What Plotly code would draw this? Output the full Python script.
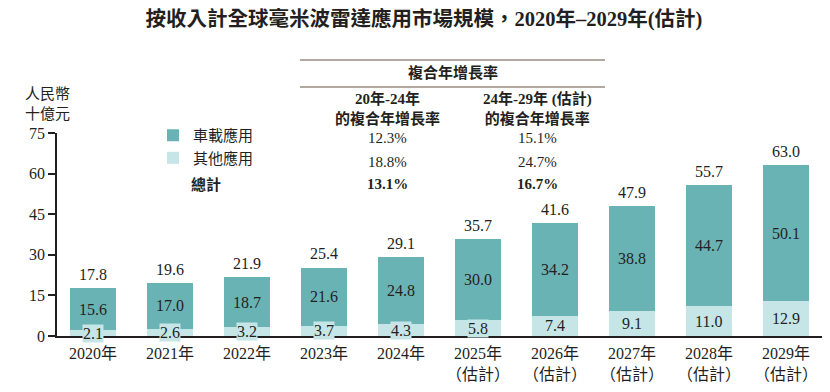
import plotly.graph_objects as go

years = ["2020年", "2021年", "2022年", "2023年", "2024年",
         "2025年<br>（估計）", "2026年<br>（估計）", "2027年<br>（估計）",
         "2028年<br>（估計）", "2029年<br>（估計）"]
vehicle = [15.6, 17.0, 18.7, 21.6, 24.8, 30.0, 34.2, 38.8, 44.7, 50.1]
other = [2.1, 2.6, 3.2, 3.7, 4.3, 5.8, 7.4, 9.1, 11.0, 12.9]
total = [17.8, 19.6, 21.9, 25.4, 29.1, 35.7, 41.6, 47.9, 55.7, 63.0]
yticks = [0, 15, 30, 45, 60, 75]

cagr_rows = ["車載應用", "其他應用", "總計"]
cagr_2024 = ["12.3%", "18.8%", "13.1%"]
cagr_2029 = ["15.1%", "24.7%", "16.7%"]

DARK = "#6AB3B5"
LIGHT = "#C6E5E7"
TXT = "#231F20"
FONT = "Liberation Serif, Noto Sans CJK TC"

# page body has an 8px margin: the figure starts at (8, 8) of the window
OFF = 8
WIN_W, WIN_H = 830, 392
W, H = WIN_W - OFF, WIN_H - OFF
PLOT_L, PLOT_R, PLOT_T, PLOT_B = 57, 828, 133, 336  # window pixels
L, R, T, B = PLOT_L - OFF, WIN_W - PLOT_R, PLOT_T - OFF, WIN_H - PLOT_B
PW, PH = PLOT_R - PLOT_L, PLOT_B - PLOT_T


def px(x):
    return (x - PLOT_L) / PW


def py(y):
    return (PLOT_B - y) / PH


fig = go.Figure()
fig.add_trace(go.Bar(x=years, y=other, name=cagr_rows[1], marker_color=LIGHT,
                     marker_line_width=0, width=0.6, legendgroup="b",
                     hoverinfo="skip"))
fig.add_trace(go.Bar(x=years, y=vehicle, name=cagr_rows[0], marker_color=DARK,
                     marker_line_width=0, width=0.6, legendgroup="a",
                     text=[f"{v:.1f}" for v in vehicle], textposition="inside",
                     insidetextanchor="middle", constraintext="none",
                     textfont=dict(size=16, color=TXT, family=FONT),
                     hoverinfo="skip"))


def note(x, y, text, size=15, xanchor="center", yanchor="middle", **kw):
    return dict(x=x, y=y, xref="paper", yref="paper", text=text, showarrow=False,
                xanchor=xanchor, yanchor=yanchor,
                font=dict(size=size, color=TXT, family=FONT), **kw)


ann = []
for x, t in zip(years, total):
    ann.append(dict(x=x, y=t, xref="x", yref="y", text=f"{t:.1f}", showarrow=False,
                    xanchor="center", yanchor="bottom", yshift=3,
                    font=dict(size=16, color=TXT, family=FONT)))
for x, o in zip(years, other):
    ann.append(dict(x=x, y=o / 2, xref="x", yref="y", text=f"{o:.1f}", showarrow=False,
                    xanchor="center", yanchor="middle", bgcolor=LIGHT, borderpad=0,
                    font=dict(size=16, color=TXT, family=FONT)))

ann.append(note(px(23), py(104), "人民幣<br>十億元", xanchor="left", align="left"))
ann.append(note(px(189), py(184), "<b>總計</b>", xanchor="left"))
ann.append(note(px(453), py(73), "<b>複合年增長率</b>"))
ann.append(note(px(387), py(108), "<b>20年-24年<br>的複合年增長率</b>"))
ann.append(note(px(537), py(108), "<b>24年-29年 (估計)<br>的複合年增長率</b>"))
row_y = [138, 162, 184]
for i, yy in enumerate(row_y):
    b0, b1 = ("<b>", "</b>") if i == 2 else ("", "")
    ann.append(note(px(387), py(yy), b0 + cagr_2024[i] + b1))
    ann.append(note(px(537), py(yy), b0 + cagr_2029[i] + b1))

shapes = []
for yy in (60, 87):
    shapes.append(dict(type="line", xref="paper", yref="paper", x0=px(300), x1=px(605),
                       y0=py(yy), y1=py(yy), line=dict(color="#9A8C7E", width=1.5)))

fig.update_layout(
    width=W, height=H,
    margin=dict(l=L, r=R, t=T, b=B, pad=0),
    plot_bgcolor="white", paper_bgcolor="white",
    barmode="stack",
    font=dict(family=FONT, color=TXT, size=16),
    title=dict(text="<b>按收入計全球毫米波雷達應用市場規模，2020年–2029年(估計)</b>",
               x=(424 - OFF) / W, xanchor="center", y=1 - (19 - OFF) / H, yanchor="middle",
               xref="container", yref="container", font=dict(size=20.5, color=TXT, family=FONT)),
    showlegend=True,
    legend=dict(x=px(153), y=py(119), xanchor="left", yanchor="top",
                traceorder="reversed", tracegroupgap=5, bgcolor="rgba(0,0,0,0)",
                font=dict(size=15, color=TXT, family=FONT)),
    xaxis=dict(type="category", range=[-0.4675, 9.546], showline=True, linecolor=TXT,
               linewidth=1.5, ticks="", showgrid=False, zeroline=False,
               ticklabelstandoff=2,
               tickfont=dict(size=16, color=TXT, family=FONT)),
    yaxis=dict(range=[0, 75], tickvals=yticks, showline=True, linecolor=TXT, linewidth=1.5,
               ticks="outside", ticklen=7, tickwidth=1.5, tickcolor=TXT, showgrid=False,
               zeroline=False, tickfont=dict(size=16, color=TXT, family=FONT)),
    annotations=ann, shapes=shapes,
)

fig.write_html("out.html")
